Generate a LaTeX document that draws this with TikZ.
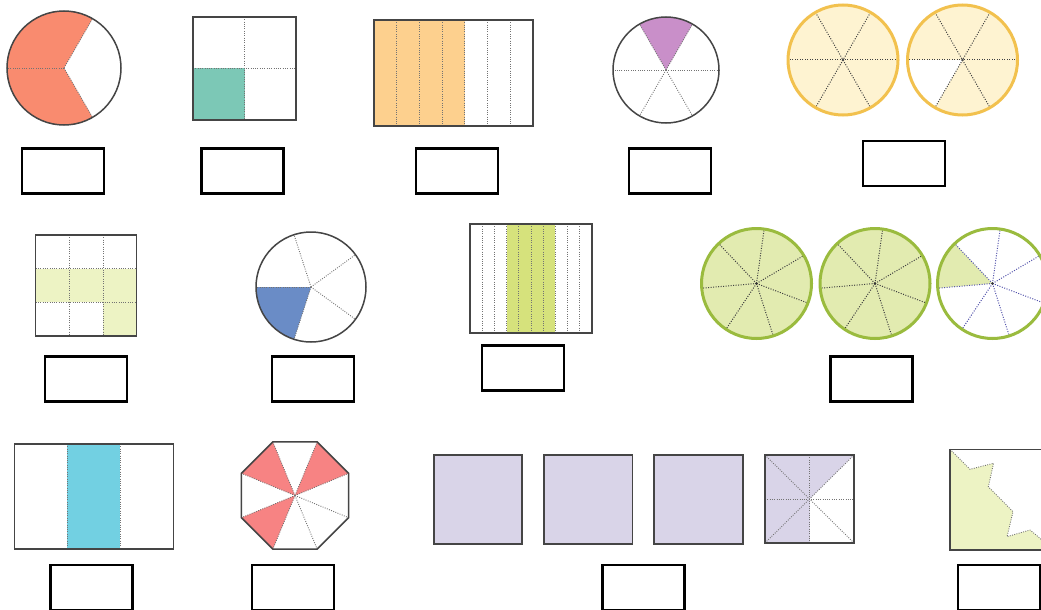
\documentclass[tikz,border=0pt]{standalone}
\usetikzlibrary{calc}
\definecolor{cSalmon}{HTML}{F98B6F}
\definecolor{cTeal}{HTML}{7CC8B6}
\definecolor{cApricot}{HTML}{FDD08E}
\definecolor{cOrchid}{HTML}{C98FC9}
\definecolor{cGoldLine}{HTML}{F2C14E}
\definecolor{cGoldFill}{HTML}{FEF3D1}
\definecolor{cPaleGreen}{HTML}{EDF3C4}
\definecolor{cBlue}{HTML}{6A8CC6}
\definecolor{cStrip}{HTML}{D6E27C}
\definecolor{cLimeLine}{HTML}{9ABB3E}
\definecolor{cLimeFill}{HTML}{E2EBB0}
\definecolor{cCyan}{HTML}{72D0E2}
\definecolor{cRed}{HTML}{F78383}
\definecolor{cLav}{HTML}{D9D4E8}
\definecolor{cEdge}{HTML}{454545}
\tikzset{
  outline/.style={draw=cEdge,line width=1.5pt},
  divline/.style={draw=black!55,line width=0.9pt,dash pattern=on 0.9pt off 1.4pt},
  darkdiv/.style={draw=black!75,line width=1pt,dash pattern=on 1pt off 1.5pt},
  bluediv/.style={draw=blue!35!gray,line width=1pt,dash pattern=on 1pt off 1.5pt},
  answerbox/.style={draw=black,line width=2.5pt,minimum width=82pt,minimum height=45pt,inner sep=0pt,fill=white},
}
\begin{document}
\begin{tikzpicture}[x=1pt,y=1pt]
\clip (0,0) rectangle (1041,-610);
\fill[white] (0,0) rectangle (1041,-610);

% ---------- Row 1 ----------
% circle 2/3
\coordinate (c1) at (64,-68);
\fill[cSalmon] (c1) -- ++(60:57) arc[start angle=60,end angle=300,radius=57] -- cycle;
\foreach \a in {60,180,300} \draw[divline] (c1) -- ++(\a:57);
\draw[outline] (c1) circle[radius=57];

% square 1/4
\fill[cTeal] (193,-68.5) rectangle (244.5,-120);
\draw[divline] (244.5,-17) -- (244.5,-120);
\draw[divline] (193,-68.5) -- (296,-68.5);
\draw[outline] (193,-17) rectangle (296,-120);

% rectangle 4/7
\fill[cApricot] (374,-20) rectangle ({374+4*159/7},-126);
\foreach \i in {1,...,6} \draw[divline] ({374+\i*159/7},-20) -- ({374+\i*159/7},-126);
\draw[outline] (374,-20) rectangle (533,-126);

% circle 1/6
\coordinate (c2) at (666,-70);
\fill[cOrchid] (c2) -- ++(60:53) arc[start angle=60,end angle=120,radius=53] -- cycle;
\foreach \a in {0,60,...,300} \draw[divline] (c2) -- ++(\a:53);
\draw[outline] (c2) circle[radius=53];

% two yellow circles
\coordinate (y1) at (843,-60);
\coordinate (y2) at (962.5,-60);
\fill[cGoldFill] (y1) circle[radius=55];
\fill[cGoldFill] (y2) circle[radius=55];
\fill[white] (y2) -- ++(180:55) arc[start angle=180,end angle=240,radius=55] -- cycle;
\foreach \c in {y1,y2}{
  \foreach \a in {0,60,120} \draw[darkdiv] ($(\c)+(\a:55)$) -- ($(\c)+(\a+180:55)$);
  \fill[black!70] (\c) circle[radius=1.3];
  \draw[cGoldLine,line width=3pt] (\c) circle[radius=55];
}

% ---------- Row 2 ----------
% 3x3 grid 4/9
\fill[cPaleGreen] (35.7,-268.7) rectangle (136.7,-302.3);
\fill[cPaleGreen] (103.3,-302.3) rectangle (136.7,-336);
\foreach \i in {1,2}{
  \draw[divline] ({35.7+\i*101/3},-235) -- ({35.7+\i*101/3},-336);
  \draw[divline] (35.7,{-235-\i*101/3}) -- (136.7,{-235-\i*101/3});
}
\draw[outline] (35.7,-235) rectangle (136.7,-336);

% circle 1/5
\coordinate (c3) at (311,-287);
\fill[cBlue] (c3) -- ++(180:55) arc[start angle=180,end angle=252,radius=55] -- cycle;
\foreach \a in {180,108,36,-36,-108} \draw[divline] (c3) -- ++(\a:55);
\draw[outline] (c3) circle[radius=55];

% strip rectangle 4/10
\fill[cStrip] ({470+3*12.2},-224) rectangle ({470+7*12.2},-333);
\foreach \i in {1,...,9} \draw[divline] ({470+\i*12.2},-224) -- ({470+\i*12.2},-333);
\draw[outline] (470,-224) rectangle (592,-333);

% three lime circles
\coordinate (l1) at (756.5,-283.5);
\coordinate (l2) at (875,-283.5);
\coordinate (l3) at (992.5,-283.5);
\fill[cLimeFill] (l1) circle[radius=55];
\fill[cLimeFill] (l2) circle[radius=55];
\fill[white] (l3) circle[radius=55];
\fill[cLimeFill] (l3) -- ++({82+360/7}:55) arc[start angle={82+360/7},end angle={82+720/7},radius=55] -- cycle;
\foreach \c in {l1,l2}{
  \foreach \k in {0,...,6} \draw[darkdiv] (\c) -- ++({82+\k*360/7}:55);
  \fill[black!80] (\c) circle[radius=1.3];
}
\foreach \k in {0,...,6} \draw[bluediv] (l3) -- ++({82+\k*360/7}:55);
\fill[black!80] (l3) circle[radius=1.3];
\foreach \c in {l1,l2,l3} \draw[cLimeLine,line width=3pt] (\c) circle[radius=55];

% ---------- Row 3 ----------
% rectangle 1/3
\fill[cCyan] (67.3,-444) rectangle (120.3,-549);
\draw[divline] (67.3,-444) -- (67.3,-549);
\draw[divline] (120.3,-444) -- (120.3,-549);
\draw[outline] (14.3,-444) rectangle (173.3,-549);

% octagon 3/8
\coordinate (oc) at (295,-495.5);
\foreach \s in {22.5,112.5,202.5}
  \fill[cRed] (oc) -- ($(oc)+(\s:58)$) -- ($(oc)+({\s+45}:58)$) -- cycle;
\foreach \k in {0,...,7} \draw[divline] (oc) -- ++({22.5+45*\k}:58);
\draw[outline] ($(oc)+(22.5:58)$) -- ($(oc)+(67.5:58)$) -- ($(oc)+(112.5:58)$) -- ($(oc)+(157.5:58)$) -- ($(oc)+(202.5:58)$) -- ($(oc)+(247.5:58)$) -- ($(oc)+(292.5:58)$) -- ($(oc)+(337.5:58)$) -- cycle;

% lavender squares 3 5/8
\fill[cLav] (434,-455) rectangle (522,-544);
\draw[outline] (434,-455) rectangle (522,-544);
\fill[cLav] (544,-455) rectangle (632.7,-544);
\draw[outline] (544,-455) rectangle (632.7,-544);
\fill[cLav] (654,-455) rectangle (743,-544);
\draw[outline] (654,-455) rectangle (743,-544);
\coordinate (sq) at (809.5,-499);
\fill[cLav] (765,-455) rectangle (809.5,-543);
\fill[cLav] (809.5,-455) -- (854,-455) -- (sq) -- cycle;
\draw[divline] (809.5,-455) -- (809.5,-543);
\draw[divline] (765,-499) -- (854,-499);
\draw[divline] (765,-455) -- (854,-543);
\draw[divline] (765,-543) -- (854,-455);
\draw[outline] (765,-455) rectangle (854,-543);

% irregular shape
\fill[cPaleGreen] (950,-449.3) -- (970,-469.3) -- (993.5,-463.3) -- (988.3,-486.7) -- (1013,-511.7) -- (1007,-536.7) -- (1030,-530) -- (1048,-545) -- (1048,-550) -- (950,-550) -- cycle;
\draw[divline] (950,-449.3) -- (970,-469.3) -- (993.5,-463.3) -- (988.3,-486.7) -- (1013,-511.7) -- (1007,-536.7) -- (1030,-530) -- (1048,-545);
\draw[outline] (1050,-449.3) -- (950,-449.3) -- (950,-550) -- (1050,-550);

% ---------- answer boxes ----------
\node[answerbox] (b1) at (63.2,-170.8) {};
\node[answerbox] (b2) at (242.5,-170.8) {};
\node[answerbox] (b3) at (456.8,-170.8) {};
\node[answerbox] (b4) at (669.8,-170.8) {};
\node[answerbox] (b5) at (904.2,-163.3) {};
\node[answerbox] (b6) at (86,-379) {};
\node[answerbox] (b7) at (313,-379) {};
\node[answerbox] (b8) at (523,-368) {};
\node[answerbox] (b9) at (871.5,-379) {};
\node[answerbox] (b10) at (91.3,-587.3) {};
\node[answerbox] (b11) at (293,-587.3) {};
\node[answerbox] (b12) at (643.7,-587.3) {};
\node[answerbox] (b13) at (998.8,-587.3) {};
\end{tikzpicture}
\end{document}
